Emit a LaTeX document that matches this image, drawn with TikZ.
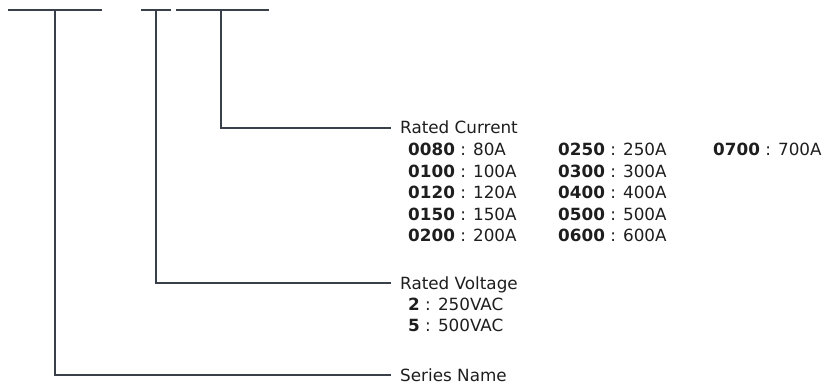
\documentclass[tikz,border=0pt]{standalone}
\usepackage{fontspec}
\setmainfont{DejaVu Sans}
\usetikzlibrary{positioning}
\definecolor{linecolor}{RGB}{58,64,74}
\definecolor{textcolor}{RGB}{30,30,30}

\begin{document}
\begin{tikzpicture}[x=1pt,y=-1pt,
    font=\fontsize{16.8}{20}\selectfont,
    bar/.style={draw=linecolor,line width=1.6pt},
    lead/.style={draw=linecolor,line width=1.4pt},
    caption/.style={anchor=west,inner xsep=9pt,inner ysep=0pt,text=textcolor,text height=12pt,text depth=0pt},
    entry/.style={anchor=west,inner sep=0pt,text=textcolor,text height=12pt,text depth=0pt}]
    \useasboundingbox (0,0) rectangle (823,385);

    % Code fields
    \draw[bar] (8,10) -- (102,10);
    \draw[bar] (141,10) -- (171,10);
    \draw[bar] (176,10) -- (269,10);
    \coordinate (series) at (55,10);
    \coordinate (voltage) at (156,10);
    \coordinate (current) at (221,10);

    % Rated current
    \node[caption] (currentname) at (391,128) {Rated Current};
    \node[entry] (c0080) at (408,150) {\textbf{0080} : 80A};
    \node[entry] (c0100) at (408,171.5) {\textbf{0100} : 100A};
    \node[entry] (c0120) at (408,193) {\textbf{0120} : 120A};
    \node[entry] (c0150) at (408,214.5) {\textbf{0150} : 150A};
    \node[entry] (c0200) at (408,236) {\textbf{0200} : 200A};
    \node[entry] (c0250) at (558,150) {\textbf{0250} : 250A};
    \node[entry] (c0300) at (558,171.5) {\textbf{0300} : 300A};
    \node[entry] (c0400) at (558,193) {\textbf{0400} : 400A};
    \node[entry] (c0500) at (558,214.5) {\textbf{0500} : 500A};
    \node[entry] (c0600) at (558,236) {\textbf{0600} : 600A};
    \node[entry] (c0700) at (713,150) {\textbf{0700} : 700A};

    % Rated voltage
    \node[caption] (voltagename) at (391,283) {Rated Voltage};
    \node[entry] (v2) at (408,304) {\textbf{2} : 250VAC};
    \node[entry] (v5) at (408,325) {\textbf{5} : 500VAC};

    % Series name
    \node[caption] (seriesname) at (391,375) {Series Name};

    % Leads
    \draw[lead] (current) |- (currentname.west);
    \draw[lead] (voltage) |- (voltagename.west);
    \draw[lead] (series) |- (seriesname.west);
\end{tikzpicture}
\end{document}
